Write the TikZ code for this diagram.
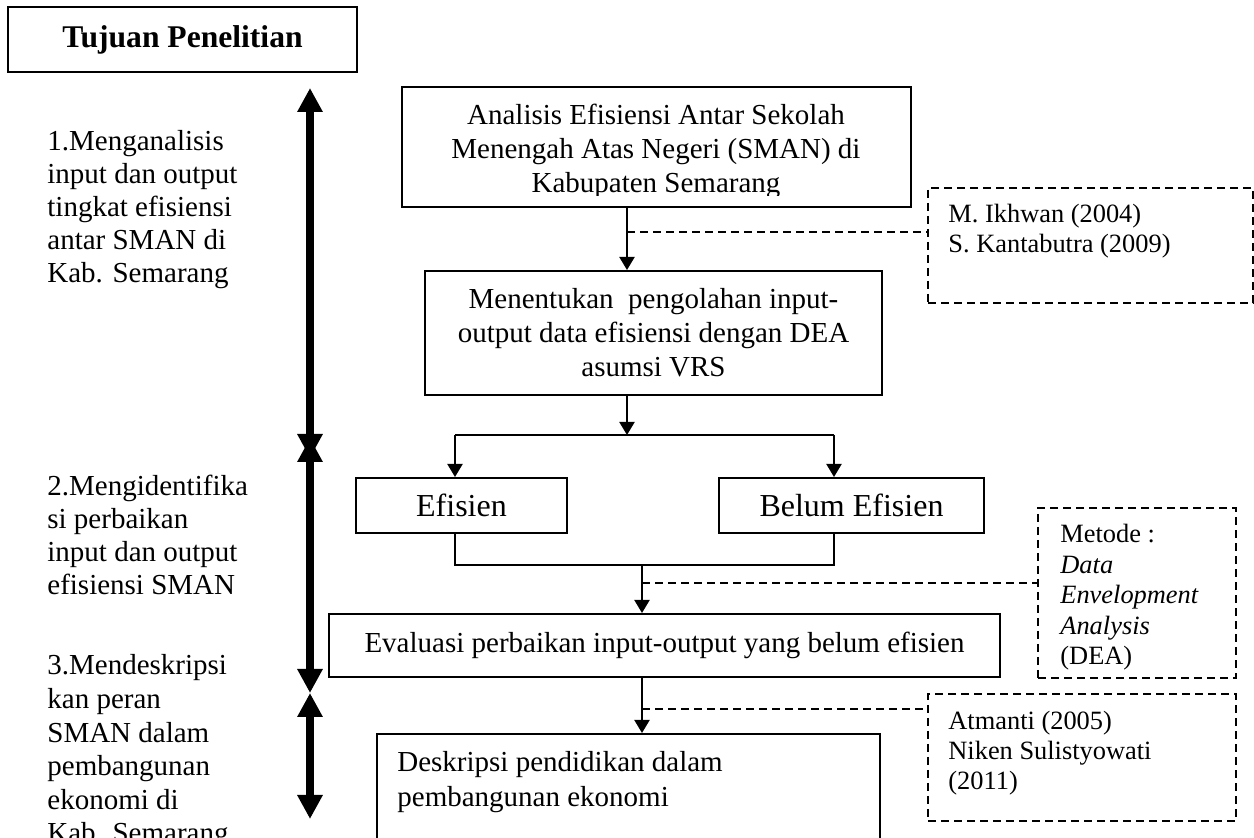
\documentclass[tikz,border=0pt]{standalone}
\usepackage{fontspec}
\setmainfont{Liberation Serif}
\usetikzlibrary{arrows.meta}
\begin{document}
\begin{tikzpicture}[x=0.5pt,y=-0.5pt,
  box/.style={draw, line width=1pt, inner sep=0pt, rectangle},
  refbox/.style={draw, line width=0.8pt, dash pattern=on 4pt off 2.5pt, inner sep=0pt, rectangle},
  boxtext/.style={align=center, font=\fontsize{14.5}{17}\selectfont},
  goal/.style={align=left, inner sep=0pt, font=\fontsize{14.5}{16.5}\selectfont},
  reftext/.style={align=left, inner sep=0pt, font=\fontsize{13.2}{15}\selectfont},
  arr/.style={line width=1pt, -{Triangle[length=6.5pt,width=7.5pt]}},
  ln/.style={line width=1pt},
  dline/.style={line width=0.8pt, dash pattern=on 4pt off 2.5pt},
  bigarr/.style={line width=4pt, {Triangle[length=12pt,width=12pt]}-{Triangle[length=12pt,width=12pt]}}
]
\useasboundingbox (0,0) rectangle (1254,838);

% title
\node[box, minimum width=174.5pt, minimum height=32.5pt, font=\fontsize{15.8}{18}\selectfont\bfseries] (title) at (182.5,39.5) {Tujuan Penelitian};

% goals (anchor = baseline of last line)
\node[goal, anchor=base west] (g1) at (47,283) {1.Menganalisis\\input dan output\\tingkat efisiensi\\antar SMAN di\\Kab. Semarang};
\node[goal, anchor=base west] (g2) at (47,595) {2.Mengidentifika\\si perbaikan\\input dan output\\efisiensi SMAN};
\node[goal, anchor=base west, font=\fontsize{14.5}{16.8}\selectfont] (g3) at (47,843) {3.Mendeskripsi\\kan peran\\SMAN dalam\\pembangunan\\ekonomi di\\Kab. Semarang};

% thick arrows
\coordinate (a1t) at (310,88);  \coordinate (a1b) at (310,458);
\coordinate (a2t) at (310,438); \coordinate (a2b) at (310,693);
\coordinate (a3t) at (310,693); \coordinate (a3b) at (310,819);
\draw[bigarr] (a1t) -- (a1b);
\draw[bigarr] (a2t) -- (a2b);
\draw[bigarr] (a3t) -- (a3b);

% box A
\node[box, minimum width=254.5pt, minimum height=60pt] (A) at (656.5,147) {};
\begin{scope}
\clip (402,87) rectangle (911,195.5);
\node[boxtext, inner sep=0pt, anchor=base] (At) at (656,193) {Analisis Efisiensi Antar Sekolah\\Menengah Atas Negeri (SMAN) di\\Kabupaten Semarang};
\end{scope}

% box B
\node[box, boxtext, minimum width=228.5pt, minimum height=62pt] (B) at (653.5,333) {Menentukan\ \ pengolahan input-\\output data efisiensi dengan DEA\\asumsi VRS};

% reference boxes
\node[refbox, minimum width=162.5pt, minimum height=57.5pt] (ref1) at (1090.5,245.5) {};
\node[reftext, anchor=base west] (ref1t) at (948,253) {M. Ikhwan (2004)\\S. Kantabutra (2009)};
\node[refbox, minimum width=99pt, minimum height=85pt] (ref2) at (1137,593) {};
\node[reftext, anchor=base west, font=\fontsize{13.2}{15.3}\selectfont] (ref2t) at (1060,665) {Metode :\\\textit{Data}\\\textit{Envelopment}\\\textit{Analysis}\\(DEA)};
\node[refbox, minimum width=154pt, minimum height=63.5pt] (ref3) at (1082,757.5) {};
\node[reftext, anchor=base west] (ref3t) at (948,790) {Atmanti (2005)\\Niken Sulistyowati\\(2011)};

% efisien boxes
\node[box, font=\fontsize{16}{19}\selectfont, minimum width=105.5pt, minimum height=27.5pt] (Ef) at (461.5,505.5) {Efisien};
\node[box, font=\fontsize{16}{19}\selectfont, minimum width=132.5pt, minimum height=27.5pt] (Bel) at (851.5,505.5) {Belum Efisien};

% evaluasi
\node[box, boxtext, minimum width=335.5pt, minimum height=31.5pt] (Ev) at (664.5,645.5) {Evaluasi perbaikan input-output yang belum efisien};

% deskripsi
\node[box, minimum width=251.5pt, minimum height=83pt] (D) at (628.5,817) {};
\node[goal, anchor=base west, font=\fontsize{14.5}{17.5}\selectfont] (Dt) at (397,807) {Deskripsi pendidikan dalam\\pembangunan ekonomi};

% connectors
\coordinate (cA) at (627,232);
\draw[arr] (A.south -| cA) -- (B.north -| cA);
\draw[dline] (cA) -- (cA -| ref1.west);

\coordinate (sp) at (627,435);
\coordinate (spL) at (455,435);
\coordinate (spR) at (834,435);
\draw[arr] (B.south -| sp) -- (sp);
\draw[ln] (spL) -- (spR);
\draw[arr] (spL) -- (Ef.north -| spL);
\draw[arr] (spR) -- (Bel.north -| spR);

\coordinate (mg) at (642,565);
\draw[ln] (Ef.south -| spL) |- (mg) -| (Bel.south -| spR);
\draw[arr] (mg) -- (Ev.north -| mg);
\coordinate (r2) at (642,583);
\draw[dline] (r2) -- (r2 -| ref2.west);

\coordinate (r3) at (642,709);
\draw[arr] (Ev.south -| r3) -- (D.north -| r3);
\draw[dline] (r3) -- (r3 -| ref3.west);
\end{tikzpicture}
\end{document}
